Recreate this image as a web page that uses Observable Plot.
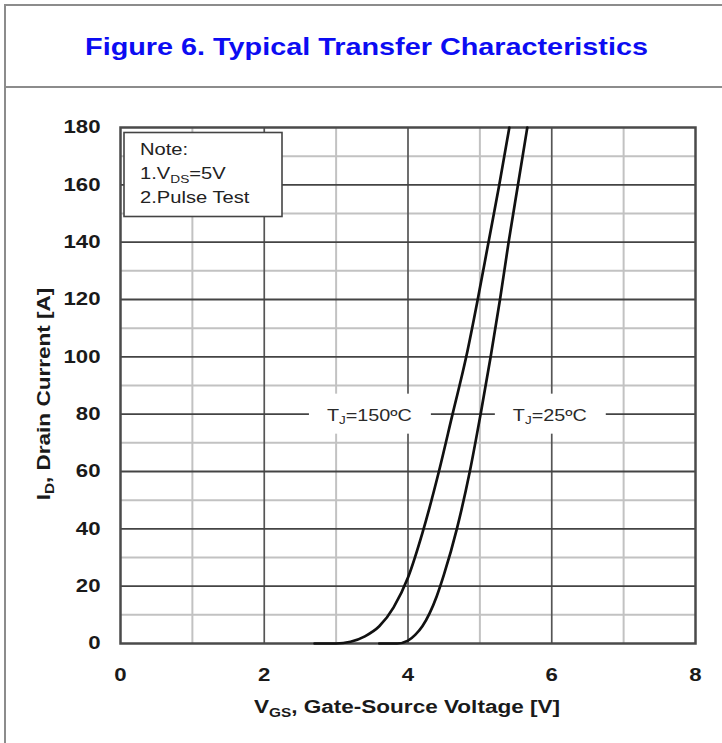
<!DOCTYPE html>
<html><head><meta charset="utf-8">
<script src="https://cdn.jsdelivr.net/npm/d3@7"></script>
<script src="https://cdn.jsdelivr.net/npm/@observablehq/plot@0.6"></script>
<style>
html,body{margin:0;padding:0;width:722px;height:743px;overflow:hidden;background:#fff;font-family:"Liberation Sans",Arial,sans-serif;}
#frame{position:absolute;left:4px;top:4px;width:760px;height:800px;border:2px solid #8c8c8c;box-sizing:border-box;}
#divider{position:absolute;left:4px;top:86px;width:760px;height:0;border-top:2px solid #8c8c8c;}
#title{position:absolute;left:0;top:35px;width:734px;text-align:center;line-height:24px;}
#title span{display:inline-block;transform:scaleX(1.2);transform-origin:center;color:#0c0cf2;font-weight:bold;font-size:24px;white-space:nowrap;}
#chart{position:absolute;left:0;top:0;}
</style></head>
<body>
<div id="frame"></div><div id="divider"></div>
<div id="title"><span>Figure 6. Typical Transfer Characteristics</span></div>
<div id="chart"></div>
<script>
// ---- data ----
const xTicks = [0, 2, 4, 6, 8];
const yTicks = [0, 20, 40, 60, 80, 100, 120, 140, 160, 180];
const xGridMajor = [2, 4, 6];
const xGridMinor = [1, 3, 5, 7];
const yGridMajor = [20, 40, 60, 80, 100, 120, 140, 160];
const yGridMinor = [10, 30, 50, 70, 90, 110, 130, 150, 170];

// Tj = 150 °C
const vgs150 = [2.7, 3.0, 3.2, 3.4, 3.6, 3.8,  4.0, 4.2,  4.43, 4.62, 4.81, 4.97, 5.12, 5.27, 5.41];
const id150  = [0,   0,   0.6, 2.5, 6,   12.6, 23,  38.5, 60,   80,   100,  120,  140,  160,  180];
// Tj = 25 °C
const vgs25 = [3.6, 3.85, 4.0, 4.1, 4.2, 4.3,  4.4,  4.5, 4.68, 4.86, 5.01, 5.15, 5.28, 5.40, 5.53, 5.66];
const id25  = [0,   0,    1,   3,   6,   10.5, 16.5, 24,  40,   60,   80,   100,  120,  140,  160,  180];

const labelLevel = 80;            // annotation line current
const labelX = [3.47, 5.98];      // label centres (V)
const labelTemp = ["150", "25"];

const FONT = '"Liberation Sans", Arial, sans-serif';
const STRETCH = 1.2;

const s150 = vgs150.map((v, i) => ({v, i: id150[i]}));
const s25 = vgs25.map((v, i) => ({v, i: id25[i]}));

const plot = Plot.plot({
  width: 722, height: 743,
  marginLeft: 120, marginRight: 27, marginTop: 127, marginBottom: 100,
  style: {fontFamily: FONT, fontSize: "18.5px", fontWeight: "bold", color: "#1a1a1a", background: "transparent", overflow: "visible"},
  x: {domain: [0, 8], ticks: xTicks, tickSize: 0, tickPadding: 24, label: null, tickFormat: d => String(d)},
  y: {domain: [0, 180], ticks: yTicks, tickSize: 0, tickPadding: 20, label: null, tickFormat: d => String(d)},
  marks: [
    Plot.ruleX(xGridMinor, {stroke: "#c2c2c2", strokeWidth: 2}),
    Plot.ruleY(yGridMinor, {stroke: "#c2c2c2", strokeWidth: 2}),
    Plot.ruleX(xGridMajor, {stroke: "#555", strokeWidth: 1.7}),
    Plot.ruleY(yGridMajor, {stroke: "#444", strokeWidth: 1.8}),
    Plot.frame({stroke: "#4a4a4a", strokeWidth: 2.5}),
    Plot.line(s150, {x: "v", y: "i", stroke: "#111", strokeWidth: 2.7, curve: "monotone-x"}),
    Plot.line(s25, {x: "v", y: "i", stroke: "#111", strokeWidth: 2.7, curve: "monotone-x"})
  ]
});
document.getElementById("chart").appendChild(plot);

const svg = d3.select(plot);
// stretch tick labels horizontally to match reference aspect (keep vertical offsets)
svg.selectAll("text").each(function () {
  const x = +this.getAttribute("x") || 0;
  const t = this.getAttribute("transform") || "";
  this.removeAttribute("x");
  this.setAttribute("transform", `${t} translate(${x},0) scale(${STRETCH},1)`);
});

const sx = plot.scale("x"), sy = plot.scale("y");

function addText(x, y, parts, {size, weight = "normal", fill = "#222", anchor = "start", rotate = 0, stretch = STRETCH}) {
  const t = svg.append("text")
    .attr("transform", `translate(${x},${y})${rotate ? ` rotate(${rotate})` : ""} scale(${stretch},1)`)
    .attr("text-anchor", anchor).attr("font-size", size).attr("font-weight", weight)
    .attr("fill", fill).attr("font-family", FONT);
  let shifted = false;
  for (const [s, sub] of parts) {
    const ts = t.append("tspan").text(s);
    if (sub && !shifted) { ts.attr("font-size", size * 0.68).attr("dy", size * 0.22); shifted = true; }
    else if (!sub && shifted) { ts.attr("dy", -size * 0.22); shifted = false; }
  }
  return t;
}

// annotation labels with white boxes
const yl = sy.apply(labelLevel);
labelX.forEach((lx, k) => {
  const px = sx.apply(lx);
  const box = svg.append("rect").attr("fill", "#fff");
  const t = addText(px, yl + 7, [["T", false], ["J", true], [`=${labelTemp[k]}ºC`, false]], {size: 16.5, fill: "#2a2a2a", anchor: "middle"});
  const w = t.node().getBBox().width * STRETCH;
  box.attr("x", px - w / 2 - 18).attr("width", w + 37).attr("y", yl - 20).attr("height", 40);
});

// note box
svg.append("rect").attr("x", 124).attr("y", 132.5).attr("width", 158).attr("height", 84)
  .attr("fill", "#fff").attr("stroke", "#444").attr("stroke-width", 1.6);
addText(140, 155, [["Note:", false]], {size: 16.8});
addText(140, 179, [["1.V", false], ["DS", true], ["=5V", false]], {size: 16.8});
addText(140, 203, [["2.Pulse Test", false]], {size: 16.8});

// axis titles
addText(407, 713, [["V", false], ["GS", true], [", Gate-Source Voltage [V]", false]], {size: 18.8, weight: "bold", fill: "#1a1a1a", anchor: "middle"});
addText(50, 394, [["I", false], ["D", true], [", Drain Current [A]", false]], {size: 18.8, weight: "bold", fill: "#1a1a1a", anchor: "middle", rotate: -90});
</script>
</body></html>
